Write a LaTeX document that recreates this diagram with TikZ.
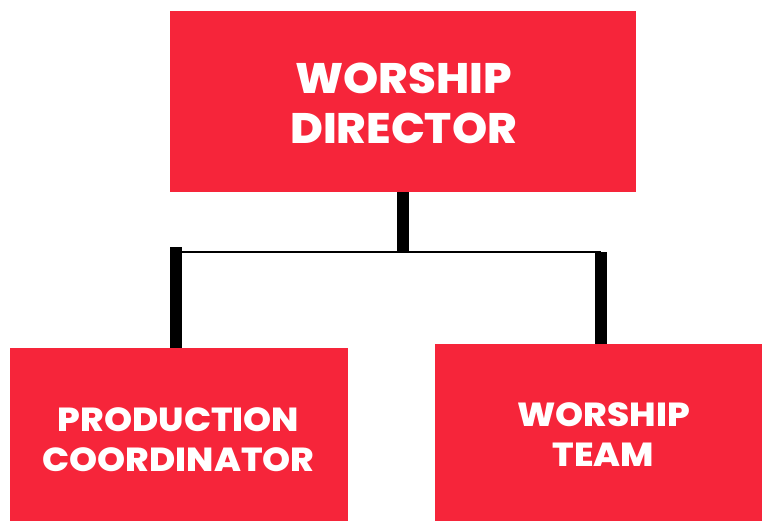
\documentclass[tikz,border=0pt]{standalone}
\usepackage{fontspec}
\setmainfont{Poppins}[BoldFont={Poppins ExtraBold}]
\definecolor{boxred}{RGB}{246,37,58}
\tikzset{
  box/.style={rectangle, fill=boxred, draw=none, inner sep=0pt},
  boxtext/.style={text=white, align=center, font=\bfseries, xscale=1.05},
  thickbar/.style={line width=9pt, black},
  thinbar/.style={line width=1.9pt, black},
}
\begin{document}
\begin{tikzpicture}[x=0.75pt,y=-0.75pt]
\useasboundingbox (0,0) rectangle (762,521);
\node[box, minimum width=349.5pt, minimum height=135.75pt] (dir) at (403,101.5) {};
\node[box, minimum width=253.5pt, minimum height=129.75pt] (prod) at (179,434.5) {};
\node[box, minimum width=245.25pt, minimum height=132.75pt] (team) at (598.5,432.5) {};
\node[boxtext, font=\fontsize{32}{37.5}\selectfont\bfseries] (dirt) at (403.5,103) {WORSHIP\\DIRECTOR};
\node[boxtext, xscale=1.02, font=\fontsize{25}{30}\selectfont\bfseries] (prodt) at (178.5,440) {PRODUCTION\\COORDINATOR};
\node[boxtext, xscale=1.02, font=\fontsize{25}{30}\selectfont\bfseries] (teamt) at (603.5,434.5) {WORSHIP\\TEAM};
\coordinate (j) at (403,252);
\coordinate (jl) at (175.5,252);
\coordinate (jr) at (601,252);
\coordinate (jlt) at (175.5,247);
\draw[thickbar] (dir.south) -- (j);
\draw[thinbar] (jl) -- (jr);
\draw[thickbar] (jlt) -- (jlt |- prod.north);
\draw[thickbar] (jr) -- (jr |- team.north);
\end{tikzpicture}
\end{document}
